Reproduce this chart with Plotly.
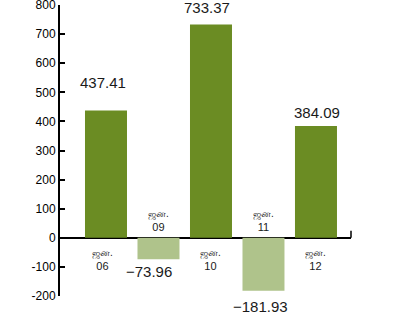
import plotly.graph_objects as go

# Data
years = ["06", "09", "10", "11", "12"]
month_label = "ஜன."
values = [437.41, -73.96, 733.37, -181.93, 384.09]
value_texts = ["437.41", "−73.96", "733.37", "−181.93", "384.09"]
y_ticks = [-200, -100, 0, 100, 200, 300, 400, 500, 600, 700, 800]
y_tick_text = ["-200", "-100", "0", "100", "200", "300", "400", "500", "600", "700", "800"]

# label offsets (pixels)
value_yshift = [18, -2, 6, -5, 3]
value_xshift = [-3, -9, -4, -3, 1]

pos_color = "#6b8c23"
neg_color = "#afc38b"
colors = [pos_color if v >= 0 else neg_color for v in values]

xs = list(range(len(years)))
fig = go.Figure()
fig.add_trace(go.Bar(x=xs, y=values, marker=dict(color=colors, line=dict(width=0)),
                     width=0.8, hoverinfo="skip"))

for i in range(len(values)):
    v, t = values[i], value_texts[i]
    fig.add_annotation(x=i, y=v, text=t, showarrow=False,
                       yanchor="bottom" if v >= 0 else "top",
                       yshift=value_yshift[i], xshift=value_xshift[i],
                       font=dict(size=15, color="#1a1a1a", family="Liberation Sans, Arial"))
    cat = f"<span style='font-size:10px'>{month_label}</span><br>{years[i]}"
    fig.add_annotation(x=i, y=0, text=cat, showarrow=False,
                       yanchor="top" if v >= 0 else "bottom",
                       yshift=-7 if v >= 0 else 3, xshift=-3 if i == 0 else 0,
                       font=dict(size=11, color="#1a1a1a", family="Liberation Sans, Arial"))

# small tick at right end of the zero line
fig.add_shape(type="line", xref="paper", yref="y", x0=1, x1=1, y0=0, y1=7,
              ysizemode="pixel", yanchor=0, line=dict(color="black", width=1.5))

fig.update_layout(
    width=419, height=314,
    margin=dict(l=60, r=68, t=5, b=18, autoexpand=False),
    plot_bgcolor="white", paper_bgcolor="white",
    showlegend=False,
    bargap=0.2,
    xaxis=dict(range=[-0.876, 4.667], showticklabels=False, showgrid=False,
               zeroline=False, showline=False, ticks=""),
    yaxis=dict(range=[-200.2, 800.2], tickvals=y_ticks, ticktext=y_tick_text, showgrid=False,
               zeroline=True, zerolinecolor="black", zerolinewidth=1.5,
               showline=True, linecolor="black", linewidth=2,
               ticks="inside", ticklen=5, tickwidth=2, tickcolor="black",
               ticklabeloverflow="allow", automargin=False,
               tickfont=dict(size=12, color="black", family="Liberation Sans, Arial")),
)
fig.write_html("out.html")
